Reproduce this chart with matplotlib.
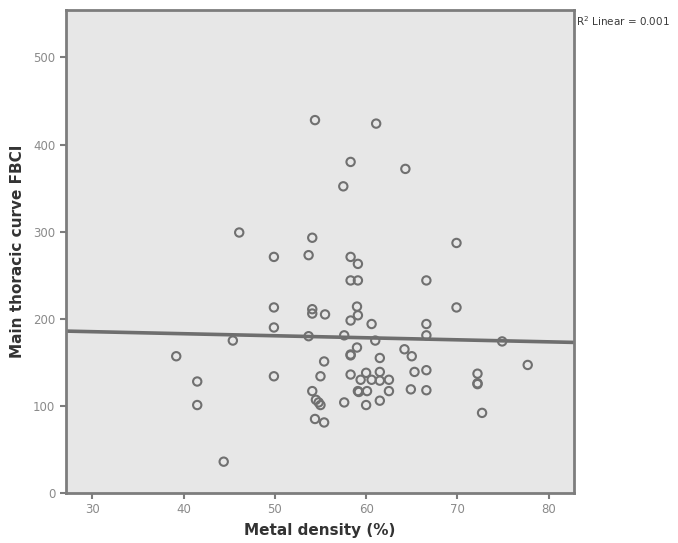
import numpy as np
import matplotlib
matplotlib.use("Agg")
import matplotlib.pyplot as plt

# Metal density (%) vs main thoracic curve FBCI
metal_density = [
    54.4, 61.1, 58.3, 64.3, 57.5, 46.1, 54.1, 69.9, 49.9, 53.7,
    58.3, 59.1, 58.3, 59.1, 66.6, 49.9, 54.1, 54.1, 55.5, 59.0,
    59.1, 58.3, 60.6, 69.9, 66.6, 66.6, 49.9, 53.7, 57.6, 61.0,
    74.9, 45.4, 59.0, 64.2, 58.3, 58.3, 65.0, 61.5, 55.4, 39.2,
    41.5, 41.5, 49.9, 44.4, 55.0, 58.3, 60.0, 61.5, 59.4, 60.6,
    61.5, 62.5, 65.3, 66.6, 59.1, 59.2, 60.1, 62.5, 64.9, 66.6,
    54.1, 54.5, 54.8, 55.0, 57.6, 60.0, 61.5, 54.4, 55.4, 72.2,
    72.2, 72.2, 72.7, 77.7,
]
fbci = [
    428, 424, 380, 372, 352, 299, 293, 287, 271, 273,
    271, 263, 244, 244, 244, 213, 211, 206, 205, 214,
    204, 198, 194, 213, 194, 181, 190, 180, 181, 175,
    174, 175, 167, 165, 158, 159, 157, 155, 151, 157,
    128, 101, 134, 36, 134, 136, 138, 139, 130, 130,
    129, 130, 139, 141, 117, 116, 117, 117, 119, 118,
    117, 107, 104, 101, 104, 101, 106, 85, 81, 137,
    126, 125, 92, 147,
]

x_ticks = [30, 40, 50, 60, 70, 80]
y_ticks = [0, 100, 200, 300, 400, 500]
r2_label = "R$^2$ Linear = 0.001"

x = np.array(metal_density)
y = np.array(fbci)
slope, intercept = np.polyfit(x, y, 1)

fig = plt.figure(figsize=(6.78, 5.43), dpi=100)
ax = fig.add_axes([0.097, 0.092, 0.750, 0.889])
ax.set_facecolor("#e7e7e7")

xlim = (27.1, 82.8)
ax.set_xlim(*xlim)
ax.set_ylim(0, 554)

ax.scatter(x, y, s=36, facecolors="none", edgecolors="#707070",
           linewidths=1.5, zorder=3)

xs = np.array(xlim)
ax.plot(xs, intercept + slope * xs, color="#6e6e6e", lw=2.6, zorder=2)

for s in ax.spines.values():
    s.set_color("#7d7d7d")
    s.set_linewidth(2.0)

ax.set_xticks(x_ticks)
ax.set_yticks(y_ticks)
ax.tick_params(axis="both", direction="out", length=4, width=1.5,
               color="#7d7d7d", labelcolor="#8a8a8a", labelsize=8.5)

ax.set_xlabel("Metal density (%)", fontsize=11, fontweight="bold",
              color="#333333", labelpad=5)
ax.set_ylabel("Main thoracic curve FBCI", fontsize=11, fontweight="bold",
              color="#333333", labelpad=6)

fig.text(0.849, 0.962, r2_label, fontsize=7.5, color="#3a3a3a",
         ha="left", va="center")

fig.savefig("out.png", dpi=100)
